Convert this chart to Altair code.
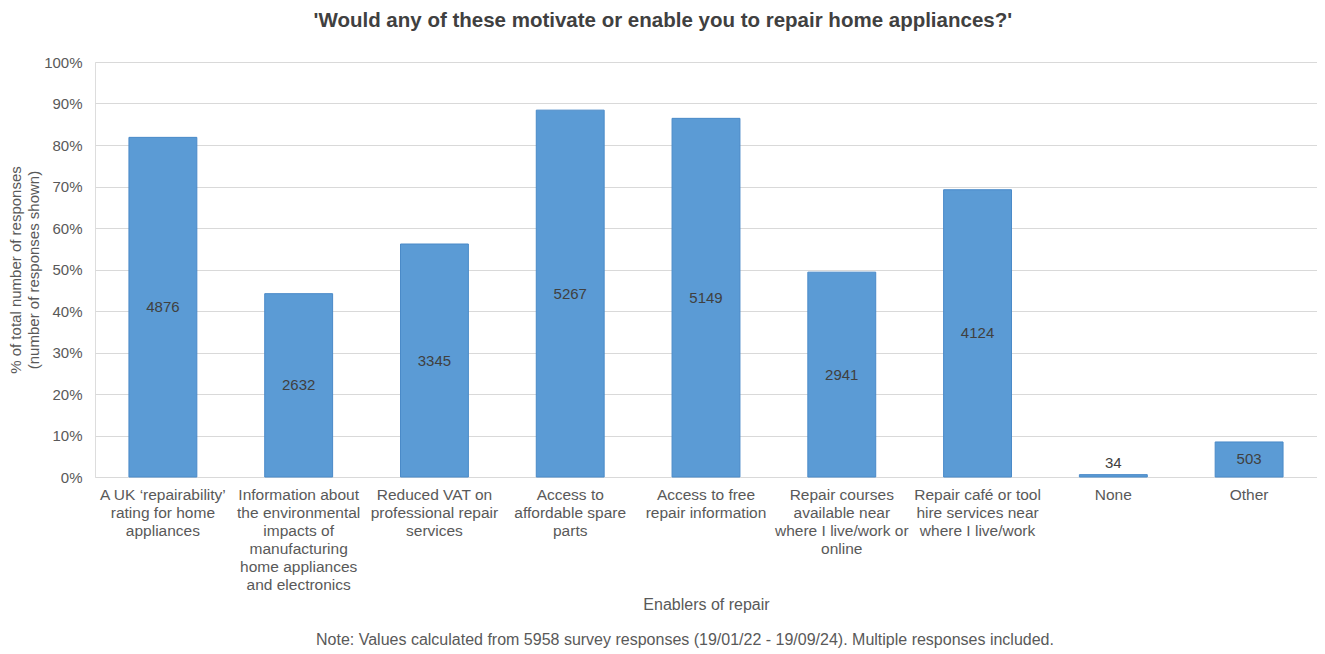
import altair as alt
import pandas as pd

categories = [
    "A UK ‘repairability’|rating for home|appliances",
    "Information about|the environmental|impacts of|manufacturing|home appliances|and electronics",
    "Reduced VAT on|professional repair|services",
    "Access to|affordable spare|parts",
    "Access to free|repair information",
    "Repair courses|available near|where I live/work or|online",
    "Repair café or tool|hire services near|where I live/work",
    "None",
    "Other",
]
counts = [4876, 2632, 3345, 5267, 5149, 2941, 4124, 34, 503]
total_responses = 5958
y_ticks = [0, 0.1, 0.2, 0.3, 0.4, 0.5, 0.6, 0.7, 0.8, 0.9, 1.0]
note = "Note: Values calculated from 5958 survey responses (19/01/22 - 19/09/24). Multiple responses included."

df = pd.DataFrame({"category": categories, "count": counts})
df["pct"] = df["count"] / total_responses

FONT = "Liberation Sans"
W, H = 1222, 415

base = alt.Chart(df)

x_enc = alt.X(
    "category:N",
    sort=categories,
    scale=alt.Scale(paddingInner=0.5, paddingOuter=0.25),
    axis=alt.Axis(
        title="Enablers of repair",
        labelAngle=0,
        labelExpr="split(datum.label, '|')",
        labelFont=FONT,
        labelFontSize=15.5,
        labelColor="#595959",
        labelLineHeight=18,
        labelPadding=10,
        labelBaseline="top",
        labelLimit=0,
        ticks=False,
        domain=False,
        titleFont=FONT,
        titleFontSize=16,
        titleFontWeight="normal",
        titleColor="#595959",
        titlePadding=4,
    ),
)

bars = base.mark_bar(color="#5B9BD5", stroke="#4A8AC8", strokeWidth=1).encode(
    x=x_enc,
    y=alt.Y(
        "pct:Q",
        scale=alt.Scale(domain=[0, 1], nice=False),
        axis=alt.Axis(
            values=y_ticks,
            format=".0%",
            title=["% of total number of responses", "(number of responses shown)"],
            labelFont=FONT,
            labelFontSize=15,
            labelColor="#595959",
            labelPadding=13,
            ticks=False,
            domain=False,
            gridColor="#D9D9D9",
            gridWidth=1,
            titleFont=FONT,
            titleFontSize=15,
            titleFontWeight="normal",
            titleColor="#595959",
            titlePadding=2,
            titleLineHeight=18,
        ),
    ),
)

inside = base.transform_filter("datum.pct > 0.02").transform_calculate(
    mid="datum.pct / 2"
).mark_text(font=FONT, fontSize=15, color="#404040", baseline="middle").encode(
    x=alt.X("category:N", sort=categories),
    y=alt.Y("mid:Q"),
    text="count:Q",
)

above = base.transform_filter("datum.pct <= 0.02").mark_text(
    font=FONT, fontSize=15, color="#404040", baseline="bottom", dy=-4
).encode(
    x=alt.X("category:N", sort=categories),
    y=alt.Y("pct:Q"),
    text="count:Q",
)

note_layer = alt.Chart(pd.DataFrame({"t": [note]})).mark_text(
    font=FONT, fontSize=16, color="#595959", baseline="middle", align="center"
).encode(
    x=alt.value(590),
    y=alt.value(578),
    text="t:N",
)

chart = alt.layer(bars, inside, above, note_layer).properties(
    width=W,
    height=H,
    padding={"left": 0, "top": 2, "right": 0, "bottom": 0},
    title=alt.TitleParams(
        "'Would any of these motivate or enable you to repair home appliances?'",
        font=FONT,
        fontSize=20.5,
        fontWeight="bold",
        color="#404040",
        anchor="middle",
        frame="bounds",
        offset=24,
    ),
).configure_view(stroke=None).configure(background="white")

chart.save("out.html", embed_options={"renderer": "svg", "actions": False})
